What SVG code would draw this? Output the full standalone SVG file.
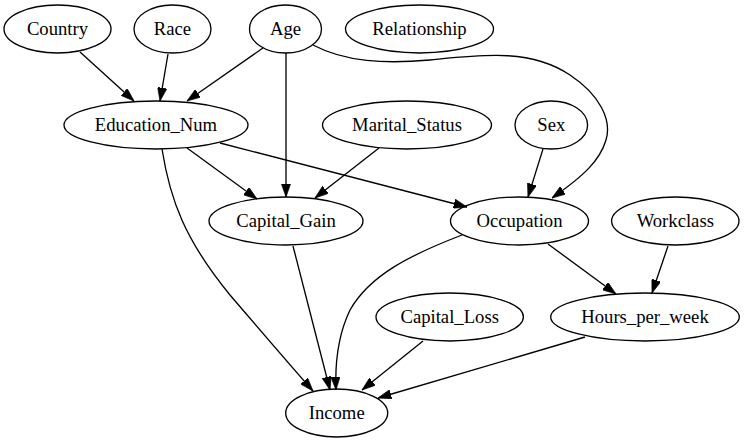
<svg xmlns="http://www.w3.org/2000/svg" width="745" height="443" viewBox="0 0 745 443">
<defs>
<style>
.n ellipse{fill:none;stroke:#000;stroke-width:1.33}
text{font-family:'Liberation Serif','DejaVu Serif',serif;font-size:18.67px;text-anchor:middle;fill:#000}
.e path{fill:none;stroke:#000;stroke-width:1.33;marker-end:url(#ah)}
</style>
<marker id="ah" viewBox="0 0 10 7" markerWidth="13.33" markerHeight="9.33" markerUnits="userSpaceOnUse" refX="10" refY="3.5" orient="auto">
<path d="M0,0 L10,3.5 L0,7 z" fill="#000" stroke="#000" stroke-width="0.5"/>
</marker>
</defs>
<rect width="745" height="443" fill="#fff"/>
<g id="edges" class="e">
<path d="M80,52 L134,101"/>
<path d="M168,54 L160,101"/>
<path d="M263,48 L187,101"/>
<path d="M286,53 L286,197"/>
<path d="M313,45 C345,62 385,64 430,60 C480,55 530,48 570,75 C600,95 612,120 606,140 C600,160 585,175 552,198"/>
<path d="M187,148 L257,199"/>
<path d="M379,148 L315,198"/>
<path d="M220,143 L467,207"/>
<path d="M543,149 L528,197"/>
<path d="M162,149 C170,200 185,240 230,295 C260,330 290,365 313,391"/>
<path d="M293,246 L330,390"/>
<path d="M462,235 C410,255 370,275 350,310 C338,335 335,365 336,390"/>
<path d="M423,341 L362,390"/>
<path d="M585,337 L378,398"/>
<path d="M548,244 L616,294"/>
<path d="M668,246 L652,293"/>
</g>
<g id="Country" class="n"><ellipse cx="57.5" cy="29" rx="53.5" ry="24"/><text x="57.5" y="34.5">Country</text></g>
<g id="Race" class="n"><ellipse cx="172.5" cy="29" rx="38.5" ry="24"/><text x="172.5" y="34.5">Race</text></g>
<g id="Age" class="n"><ellipse cx="285.5" cy="29" rx="36" ry="24"/><text x="285.5" y="34.5">Age</text></g>
<g id="Relationship" class="n"><ellipse cx="419.5" cy="29" rx="74" ry="24"/><text x="419.5" y="34.5">Relationship</text></g>
<g id="Education_Num" class="n"><ellipse cx="156" cy="125" rx="92" ry="24"/><text x="156" y="130.5">Education_Num</text></g>
<g id="Marital_Status" class="n"><ellipse cx="407" cy="125" rx="84.5" ry="24"/><text x="407" y="130.5">Marital_Status</text></g>
<g id="Sex" class="n"><ellipse cx="551.3" cy="125" rx="36.3" ry="24"/><text x="551.3" y="130.5">Sex</text></g>
<g id="Capital_Gain" class="n"><ellipse cx="286" cy="221" rx="77" ry="24"/><text x="286" y="226.5">Capital_Gain</text></g>
<g id="Occupation" class="n"><ellipse cx="519.5" cy="221" rx="69" ry="24"/><text x="519.5" y="226.5">Occupation</text></g>
<g id="Workclass" class="n"><ellipse cx="675.3" cy="221" rx="63.7" ry="24"/><text x="675.3" y="226.5">Workclass</text></g>
<g id="Capital_Loss" class="n"><ellipse cx="449.7" cy="317" rx="73.7" ry="24"/><text x="449.7" y="322.5">Capital_Loss</text></g>
<g id="Hours_per_week" class="n"><ellipse cx="645" cy="317" rx="94.3" ry="24"/><text x="645" y="322.5">Hours_per_week</text></g>
<g id="Income" class="n"><ellipse cx="336.7" cy="413" rx="51" ry="24"/><text x="336.7" y="418.5">Income</text></g>
</svg>
